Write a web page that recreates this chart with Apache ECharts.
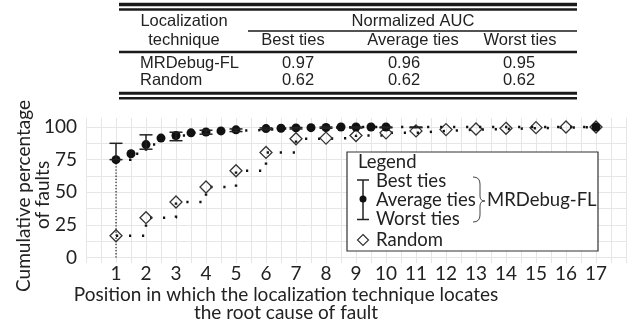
<!DOCTYPE html>
<html lang="en">
<head>
  <meta charset="UTF-8">
  <title>Cumulative percentage of faults</title>
  <script src="https://cdn.jsdelivr.net/npm/echarts@6/dist/echarts.min.js"></script>
  <style>
    html, body { margin: 0; padding: 0; background: #fff; }
    #main { width: 634px; height: 328px; }
  </style>
</head>
<body>
  <div id="main"></div>
  <script>
    // data
    var positions = [1, 2, 3, 4, 5, 6, 7, 8, 9, 10, 11, 12, 13, 14, 15, 16, 17];
    var randomPct = [16.7, 30.5, 42.5, 54, 66.5, 80.5, 91, 91.5, 93.5, 95.5, 97, 98, 98.5, 99, 99.5, 100, 100];
    // average ties fall on half positions
    var avgPos = [1, 1.5, 2, 2.5, 3, 3.5, 4, 4.5, 5, 6, 6.5, 7, 7.5, 8, 8.5, 9, 9.5, 10, 17];
    var avgPct = [75, 79.5, 86.5, 91.5, 93.5, 95.5, 96.2, 97, 97.8, 98.8, 99, 99.3, 99.5, 99.6, 100, 100, 100, 100, 100];
    var barPos = [1, 2, 3, 4, 5, 6, 7, 8, 9, 10, 11];
    var bestPct = [87.5, 94, 96, 97.5, 98.5, 99.3, 99.6, 100, 100, 100, 100];
    var worstPct = [75, 83, 89.5, 94.5, 96.5, 98, 98.5, 99, 99.2, 99.4, 99.5];
    var yTicks = [0, 25, 50, 75, 100];

    var tableHead = ['Localization', 'technique', 'Normalized AUC', 'Best ties', 'Average ties', 'Worst ties'];
    var tableRows = [
      ['MRDebug-FL', '0.97', '0.96', '0.95'],
      ['Random', '0.62', '0.62', '0.62']
    ];

    var FONT = 'Lato';
    var TFONT = 'Liberation Sans';
    var INK = '#222';
    var GRID = '#e6e6e6';

    var myChart = echarts.init(document.getElementById('main'));

    function pairs(xs, ys) {
      return xs.map(function (x, i) { return [x, ys[i]]; });
    }

    function renderBar(params, api) {
      var x = api.value(0);
      var lo = api.coord([x, api.value(1)]);
      var hi = api.coord([x, api.value(2)]);
      var w = 6.5;
      var st = { stroke: INK, lineWidth: 1.5 };
      return {
        type: 'group',
        children: [
          { type: 'line', shape: { x1: lo[0], y1: lo[1], x2: hi[0], y2: hi[1] }, style: st },
          { type: 'line', shape: { x1: lo[0] - w, y1: lo[1], x2: lo[0] + w, y2: lo[1] }, style: st },
          { type: 'line', shape: { x1: hi[0] - w, y1: hi[1], x2: hi[0] + w, y2: hi[1] }, style: st }
        ]
      };
    }

    // table + legend + axis titles as graphic
    var g = [];
    function hline(x1, x2, y, w) {
      g.push({ type: 'line', z: 50, shape: { x1: x1, y1: y, x2: x2, y2: y }, style: { stroke: '#1a1a1a', lineWidth: w } });
    }
    function seg(x1, y1, x2, y2, w, col) {
      g.push({ type: 'line', z: 52, shape: { x1: x1, y1: y1, x2: x2, y2: y2 }, style: { stroke: col || INK, lineWidth: w || 1.5 } });
    }
    function curve(x1, y1, cx, cy, x2, y2) {
      g.push({ type: 'bezierCurve', z: 52, shape: { x1: x1, y1: y1, cpx1: cx, cpy1: cy, x2: x2, y2: y2 }, style: { stroke: '#444', lineWidth: 1, fill: null } });
    }
    function txt(s, x, y, align, font, size, rot) {
      g.push({
        type: 'text', z: 52, x: x, y: y, rotation: rot || 0,
        style: { text: s, fill: INK, font: size + 'px "' + font + '"', align: align, verticalAlign: 'middle' }
      });
    }

    hline(119, 577, 4.5, 3.5);
    hline(119, 577, 9.5, 2.5);
    hline(248, 577, 31, 1.5);
    hline(119, 577, 52, 2.5);
    hline(119, 577, 93.3, 3);
    hline(119, 577, 98.3, 2.5);

    txt(tableHead[0], 184, 21.5, 'center', TFONT, 16.5);
    txt(tableHead[1], 184, 40, 'center', TFONT, 16.5);
    txt(tableHead[2], 413, 21.5, 'center', TFONT, 16.5);
    txt(tableHead[3], 293, 40, 'center', TFONT, 16.5);
    txt(tableHead[4], 413, 40, 'center', TFONT, 16.5);
    txt(tableHead[5], 520, 40, 'center', TFONT, 16.5);
    var colX = [298, 404, 519];
    tableRows.forEach(function (row, r) {
      var y = 63 + r * 17;
      txt(row[0], 140, y, 'left', TFONT, 16.5);
      for (var c = 1; c < row.length; c++) txt(row[c], colX[c - 1], y, 'center', TFONT, 16.5);
    });

    // axis titles
    txt('Cumulative percentage', 24, 196, 'center', FONT, 19, Math.PI / 2);
    txt('of faults', 43, 195, 'center', FONT, 19, Math.PI / 2);
    txt('Position in which the localization technique locates', 286, 295, 'center', FONT, 19);
    txt('the root cause of fault', 286, 313, 'center', FONT, 19);

    // legend box
    g.push({ type: 'rect', z: 51, shape: { x: 347, y: 152, width: 251, height: 99 }, style: { fill: '#fff', stroke: '#333', lineWidth: 1.2 } });
    txt('Legend', 358, 162.5, 'left', FONT, 18.5);
    var lx = 363;
    seg(lx, 180, lx, 219.5);
    seg(lx - 6, 180, lx + 6, 180);
    seg(lx - 6, 219.5, lx + 6, 219.5);
    g.push({ type: 'circle', z: 53, shape: { cx: lx, cy: 199, r: 3.5 }, style: { fill: '#111' } });
    txt('Best ties', 376, 181.5, 'left', FONT, 18.5);
    txt('Average ties', 376, 200, 'left', FONT, 18.5);
    txt('Worst ties', 376, 219, 'left', FONT, 18.5);
    // brace
    curve(473, 177, 480, 177, 480, 184);
    seg(480, 184, 480, 196, 1, '#444');
    curve(480, 196, 480, 201, 485, 201);
    curve(480, 206, 480, 201, 485, 201);
    seg(480, 206, 480, 215, 1, '#444');
    curve(480, 215, 480, 222, 473, 222);
    txt('MRDebug-FL', 487, 200.5, 'left', FONT, 18.5);
    g.push({ type: 'polygon', z: 52, shape: { points: [[363, 234.5], [368.5, 240], [363, 245.5], [357.5, 240]] }, style: { fill: null, stroke: '#333', lineWidth: 1.2 } });
    txt('Random', 376, 240, 'left', FONT, 18.5);

    var dotted = { color: '#111', width: 2.5, type: [2.2, 10.8], cap: 'butt' };

    option = {
      animation: false,
      textStyle: { fontFamily: FONT },
      grid: [
        { left: 86, right: 8, top: 118, bottom: 65 },
        { left: 86, right: 8, top: 127, bottom: 70.5 }
      ],
      xAxis: [
        {
          gridIndex: 0, type: 'value', min: 0, max: 18, interval: 0.5,
          axisLine: { show: false }, axisTick: { show: false }, axisLabel: { show: false },
          splitLine: { lineStyle: { color: GRID, width: 1 } }
        },
        {
          gridIndex: 1, type: 'value', min: 0, max: 18, interval: 0.5,
          axisLine: { show: false }, axisTick: { show: false }, splitLine: { show: false },
          axisLabel: {
            margin: 7, color: INK, fontSize: 19, fontFamily: FONT,
            formatter: function (v) { return positions.indexOf(v) >= 0 ? String(v) : ''; }
          }
        }
      ],
      yAxis: [
        { gridIndex: 0, type: 'value', min: 0, max: 1, show: false },
        {
          gridIndex: 1, type: 'value', min: 0, max: 100, interval: 12.5,
          axisLine: { show: false }, axisTick: { show: false },
          splitLine: { lineStyle: { color: GRID, width: 1 } },
          axisLabel: {
            margin: 9, color: INK, fontSize: 19, fontFamily: FONT,
            formatter: function (v) { return yTicks.indexOf(v) >= 0 ? String(v) : ''; }
          }
        }
      ],
      graphic: g,
      series: [
        {
          name: 'Base', type: 'line', xAxisIndex: 1, yAxisIndex: 1,
          data: [[1, 0], [1, avgPct[0]]], symbol: 'none', silent: true, z: 1,
          lineStyle: { color: '#333', width: 1.3, type: [1.3, 1.8] }
        },
        {
          name: 'Random', type: 'line', xAxisIndex: 1, yAxisIndex: 1,
          data: pairs(positions, randomPct), step: 'end', clip: false,
          symbol: 'diamond', symbolSize: 12, z: 3,
          itemStyle: { color: 'rgba(255,255,255,0)', borderColor: '#333', borderWidth: 1.3 },
          lineStyle: dotted
        },
        {
          name: 'Average ties', type: 'line', xAxisIndex: 1, yAxisIndex: 1,
          data: pairs(avgPos, avgPct), step: 'end', clip: false,
          symbol: 'circle', symbolSize: 9, z: 4,
          itemStyle: { color: '#111' },
          lineStyle: dotted
        },
        {
          name: 'Best/Worst ties', type: 'custom', xAxisIndex: 1, yAxisIndex: 1,
          data: barPos.map(function (x, i) { return [x, worstPct[i], bestPct[i]]; }),
          encode: { x: 0, y: [1, 2] }, renderItem: renderBar, clip: false, z: 5
        }
      ]
    };
    myChart.setOption(option);
  </script>
</body>
</html>
